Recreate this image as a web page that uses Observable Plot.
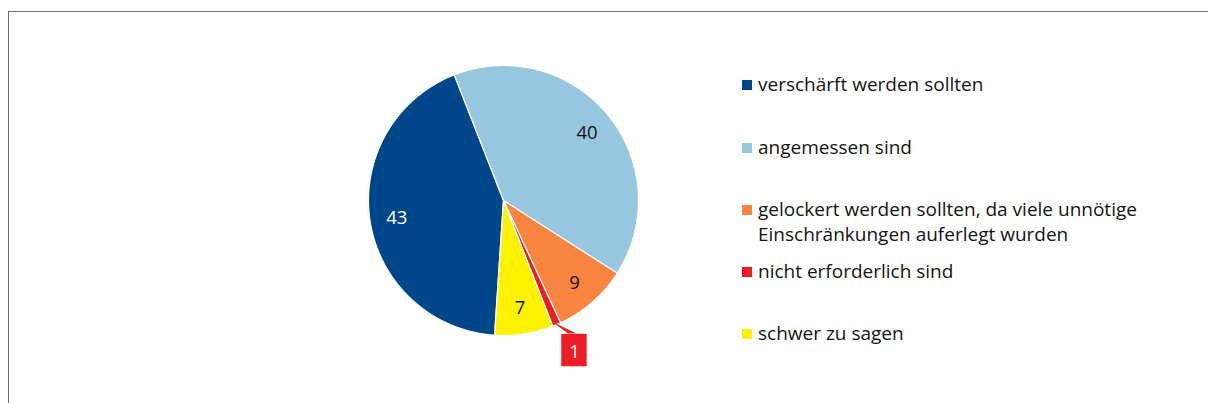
<!DOCTYPE html>
<html>
<head>
<meta charset="utf-8">
<script src="https://cdn.jsdelivr.net/npm/d3@7"></script>
<script src="https://cdn.jsdelivr.net/npm/@observablehq/plot@0.6"></script>
<style>
  html, body { margin: 0; padding: 0; background: #fff; }
  #wrap { position: relative; width: 1208px; height: 403px; overflow: hidden; font-family: "Open Sans", "Noto Sans", sans-serif; }
  #frame { position: absolute; left: 8px; top: 11px; right: -5px; bottom: -5px; border-top: 1px solid #6b6b6b; border-left: 1px solid #6b6b6b; }
  .item { position: absolute; left: 742px; font-size: 19px; line-height: 25px; color: #141414; white-space: nowrap; }
  .sw { position: absolute; left: 0; width: 10px; height: 10px; }
  .txt { position: absolute; left: 16px; top: 0; }
  #chart { position: absolute; left: 0; top: 0; }
</style>
</head>
<body>
<div id="wrap">
  <div id="frame"></div>
  <div id="chart"></div>
  <div id="legend"></div>
</div>
<script>
// ---- data ----
const categories = [
  "verschärft werden sollten",
  "angemessen sind",
  "gelockert werden sollten, da viele unnötige Einschränkungen auferlegt wurden",
  "nicht erforderlich sind",
  "schwer zu sagen"
];
const legendLines = [
  ["verschärft werden sollten"],
  ["angemessen sind"],
  ["gelockert werden sollten, da viele unnötige", "Einschränkungen auferlegt wurden"],
  ["nicht erforderlich sind"],
  ["schwer zu sagen"]
];
const values = [43, 40, 9, 1, 7];
const colors = ["#00468b", "#97c6df", "#f8853f", "#ee1c24", "#fff200"];
const labelColors = ["#ffffff", "#141414", "#141414", "#ffffff", "#141414"];

// ---- layout ----
const W = 1208, H = 403, CX = 503, CY = 200, R = 135;
const startDeg = 183.8;
const toRad = Math.PI / 180;
const FONT = "'Open Sans', 'Noto Sans', sans-serif";

const pie = d3.pie().sort(null).value(d => d.value)
  .startAngle(startDeg * toRad).endAngle(startDeg * toRad + 2 * Math.PI);
const rows = categories.map((c, i) => ({category: c, value: values[i], color: colors[i], labelColor: labelColors[i]}));
const arcs = pie(rows);

// polygon points for each slice (unit radius, y up, angle clockwise from top)
const slicePts = [];
arcs.forEach((a, i) => {
  slicePts.push({i, x: 0, y: 0});
  const n = Math.max(2, Math.ceil((a.endAngle - a.startAngle) / (0.5 * toRad)));
  for (let k = 0; k <= n; k++) {
    const t = a.startAngle + (a.endAngle - a.startAngle) * k / n;
    slicePts.push({i, x: Math.sin(t), y: Math.cos(t)});
  }
});

const mid = a => (a.startAngle + a.endAngle) / 2;
const LR = 0.8;
const labels = arcs.filter(a => a.data.value > 1).map(a => ({
  text: String(a.data.value), x: LR * Math.sin(mid(a)), y: LR * Math.cos(mid(a)), color: a.data.labelColor
}));
// small slice: callout box
const small = arcs.filter(a => a.data.value <= 1).map(a => {
  const m = mid(a) - 2.1 * toRad;
  const bx = 1.23 * Math.sin(m), by = 1.23 * Math.cos(m);
  return {text: String(a.data.value), a, bx, by, color: a.data.color, ex: Math.sin(mid(a)), ey: Math.cos(mid(a))};
});
const bw = 13 / R, bh = 16.5 / R;
const leader = [];
small.forEach((s, j) => {
  leader.push({j, x: s.ex, y: s.ey});
  leader.push({j, x: s.bx - 5 / R, y: s.by + bh});
  leader.push({j, x: s.bx + 2 / R, y: s.by + bh});
});

const plot = Plot.plot({
  width: W, height: H,
  margin: 0,
  x: {domain: [-CX / R, (W - CX) / R], range: [0, W], axis: null},
  y: {domain: [(CY - H) / R, CY / R], range: [H, 0], axis: null},
  style: {background: "transparent", fontFamily: FONT},
  marks: [
    Plot.line(slicePts, {x: "x", y: "y", z: "i", fill: d => colors[d.i], stroke: "#fff", strokeWidth: 1.2, curve: "linear-closed"}),
    Plot.line(leader, {x: "x", y: "y", z: "j", fill: colors[3], stroke: colors[3], strokeWidth: 1, curve: "linear-closed"}),
    Plot.rect(small, {x1: d => d.bx - bw, x2: d => d.bx + bw, y1: d => d.by - bh, y2: d => d.by + bh, fill: d => d.color, stroke: "#fff", strokeWidth: 0.6}),
    Plot.text(small, {x: "bx", y: "by", text: "text", fill: "#fff", fontSize: 18.5, dy: 1}),
    Plot.text(labels, {x: "x", y: "y", text: "text", fill: "color", fontSize: 18.5, dy: 1})
  ]
});
document.getElementById("chart").appendChild(plot);

// ---- legend ----
const baselines = [92, 155, 217, 279, 341];
const legend = document.getElementById("legend");
const asc = 20.3;
legendLines.forEach((lines, i) => {
  const div = document.createElement("div");
  div.className = "item";
  div.style.top = (baselines[i] - asc) + "px";
  const sw = document.createElement("div");
  sw.className = "sw";
  sw.style.background = colors[i];
  sw.style.top = (asc - 12) + "px";
  div.appendChild(sw);
  const t = document.createElement("div");
  t.className = "txt";
  t.innerHTML = lines.join("<br>");
  div.appendChild(t);
  legend.appendChild(div);
});
</script>
</body>
</html>
